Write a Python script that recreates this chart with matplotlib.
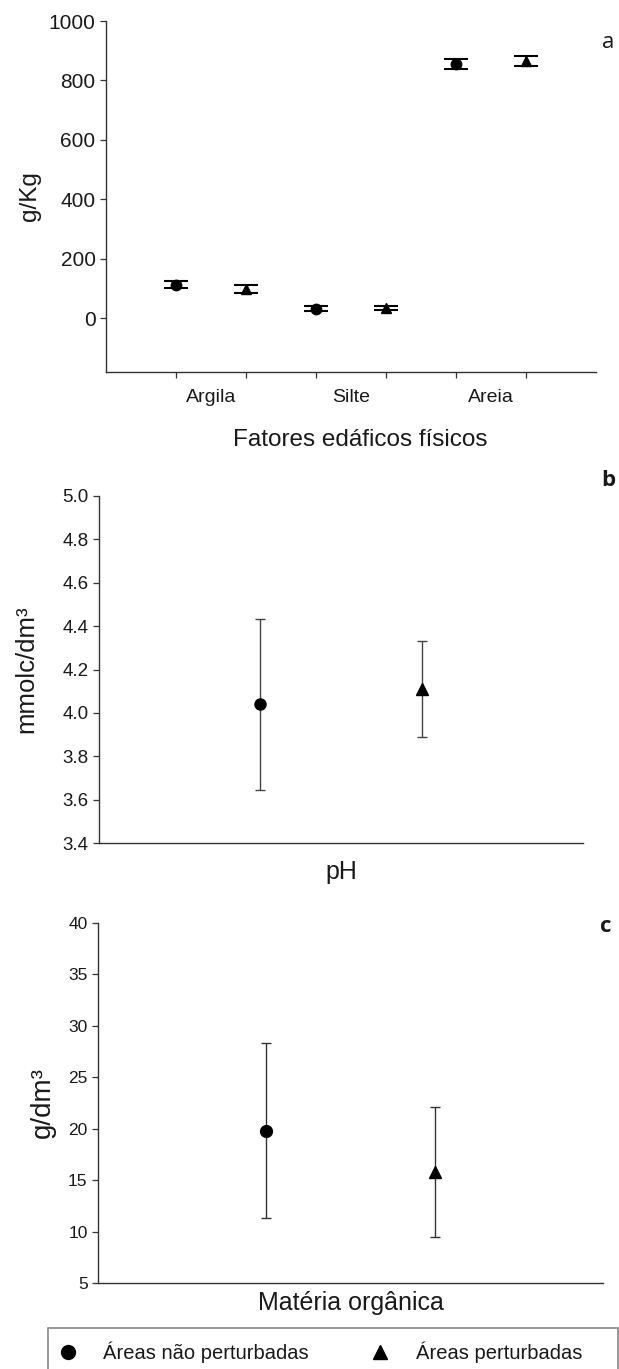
import matplotlib
matplotlib.use("Agg")
import matplotlib.pyplot as plt
from matplotlib.lines import Line2D
from matplotlib.patches import Rectangle

plt.rcParams['font.family'] = ['Liberation Sans', 'DejaVu Sans']

# panel a: physical soil factors (g/Kg)
fisicos = ['Argila', 'Silte', 'Areia']
fis_nao_pert = [113, 33, 855]
fis_nao_pert_err = [12, 8, 17]
fis_pert = [100, 35, 866]
fis_pert_err = [13, 6, 16]

# panel b: pH (mmolc/dm3)
ph_vals = [4.04, 4.11]
ph_err = [0.395, 0.22]

# panel c: organic matter (g/dm3)
mo_vals = [19.8, 15.8]
mo_err = [8.5, 6.3]

leg_labels = ['Áreas não perturbadas', 'Áreas perturbadas']

W, H = 619, 1369
fig = plt.figure(figsize=(W / 100, H / 100), dpi=100)
ink = '#1a1a1a'
tag_font = ['Open Sans', 'DejaVu Sans']


def frame(ax):
    for s in ['top', 'right']:
        ax.spines[s].set_visible(False)
    for s in ['left', 'bottom']:
        ax.spines[s].set_color('#333333')
        ax.spines[s].set_linewidth(1.0)
    ax.tick_params(colors='#333333', labelcolor=ink, length=4, width=0.9)


def box(l, t, r, b):
    # axes rectangle from pixel edges
    return [l / W, 1 - b / H, (r - l) / W, (b - t) / H]


# ---- a ----
ax1 = fig.add_axes(box(106, 21, 596, 372))
frame(ax1)
xc = [1 + 2 * i for i in range(len(fisicos))]
xt = [x + 1 for x in xc]
ax1.errorbar(xc, fis_nao_pert, yerr=fis_nao_pert_err, fmt='o', color='black',
             ms=7.5, capsize=8.5, elinewidth=1.2, capthick=1.5)
ax1.errorbar(xt, fis_pert, yerr=fis_pert_err, fmt='^', color='black',
             ms=7.5, capsize=8.5, elinewidth=1.2, capthick=1.5)
ax1.set_xlim(0, 7)
ax1.set_ylim(-180, 1000)
ax1.set_yticks([0, 200, 400, 600, 800, 1000])
ax1.set_xticks(xc + xt)
ax1.set_xticklabels([])
ax1.tick_params(axis='y', labelsize=15)
for i, lab in enumerate(fisicos):
    ax1.text(xc[i] + 0.5, -0.072, lab, transform=ax1.get_xaxis_transform(),
             ha='center', va='center', fontsize=14, color=ink)
ax1.set_ylabel('g/Kg', fontsize=17.5, color=ink, va='center')
ax1.yaxis.set_label_coords(-0.155, 0.5)
fig.text(360 / W, 1 - 440 / H, 'Fatores edáficos físicos',
         ha='center', va='center', fontsize=17.5, color=ink)
fig.text(608 / W, 1 - 43 / H, 'a', fontsize=16, ha='center', va='center',
         family=tag_font, color=ink)

# ---- b ----
ax2 = fig.add_axes(box(99, 496, 583, 843))
frame(ax2)
ax2.errorbar([1], [ph_vals[0]], yerr=[ph_err[0]], fmt='o', color='black',
             ecolor='#444444', ms=8, capsize=3.6, elinewidth=1.0)
ax2.errorbar([2], [ph_vals[1]], yerr=[ph_err[1]], fmt='^', color='black',
             ecolor='#444444', ms=8, capsize=3.6, elinewidth=1.0)
ax2.set_xlim(0, 3)
ax2.set_ylim(3.4, 5.0)
ax2.set_yticks([3.4, 3.6, 3.8, 4.0, 4.2, 4.4, 4.6, 4.8, 5.0])
ax2.set_yticklabels([f'{v:.1f}' for v in ax2.get_yticks()])
ax2.set_xticks([])
ax2.tick_params(axis='y', labelsize=13.5)
ax2.set_ylabel('mmolc/dm³', fontsize=18.5, color=ink, va='center')
ax2.yaxis.set_label_coords(-0.151, 0.5)
ax2.text(0.5, -0.084, 'pH', transform=ax2.transAxes, ha='center',
         va='center', fontsize=18, color=ink)
fig.text(608 / W, 1 - 480 / H, 'b', fontsize=16, fontweight='bold',
         ha='center', va='center', family=tag_font, color=ink)

# ---- c ----
ax3 = fig.add_axes(box(98, 922.7, 603, 1283))
frame(ax3)
ax3.errorbar([1], [mo_vals[0]], yerr=[mo_err[0]], fmt='o', color='black',
             ecolor='#333333', ms=8.5, capsize=3.8, elinewidth=1.0)
ax3.errorbar([2], [mo_vals[1]], yerr=[mo_err[1]], fmt='^', color='black',
             ecolor='#333333', ms=8.5, capsize=3.8, elinewidth=1.0)
ax3.set_xlim(0, 3)
ax3.set_ylim(5, 40)
ax3.set_yticks([5, 10, 15, 20, 25, 30, 35, 40])
ax3.set_xticks([])
ax3.tick_params(axis='y', labelsize=12.5)
ax3.set_ylabel('g/dm³', fontsize=20, color=ink, va='center')
ax3.yaxis.set_label_coords(-0.109, 0.5)
ax3.text(0.5, -0.056, 'Matéria orgânica', transform=ax3.transAxes,
         ha='center', va='center', fontsize=18, color=ink)
fig.text(606 / W, 1 - 927 / H, 'c', fontsize=16, fontweight='bold',
         ha='center', va='center', family=tag_font, color=ink)

# ---- legend box along the bottom ----
fig.patches.append(Rectangle((48 / W, -0.01), (618 - 48) / W,
                             0.01 + (H - 1328) / H,
                             transform=fig.transFigure, fill=False,
                             edgecolor='#888888', lw=1.2))
leg_y = 1 - 1352 / H
for mk, mx, tx, lab in zip(['o', '^'], [68, 380], [103, 416], leg_labels):
    fig.add_artist(Line2D([mx / W], [leg_y], transform=fig.transFigure,
                          ls='none', marker=mk, color='black', ms=10))
    fig.text(tx / W, leg_y, lab, ha='left', va='center', fontsize=14.5,
             color=ink)

fig.savefig('out.png', dpi=100)
